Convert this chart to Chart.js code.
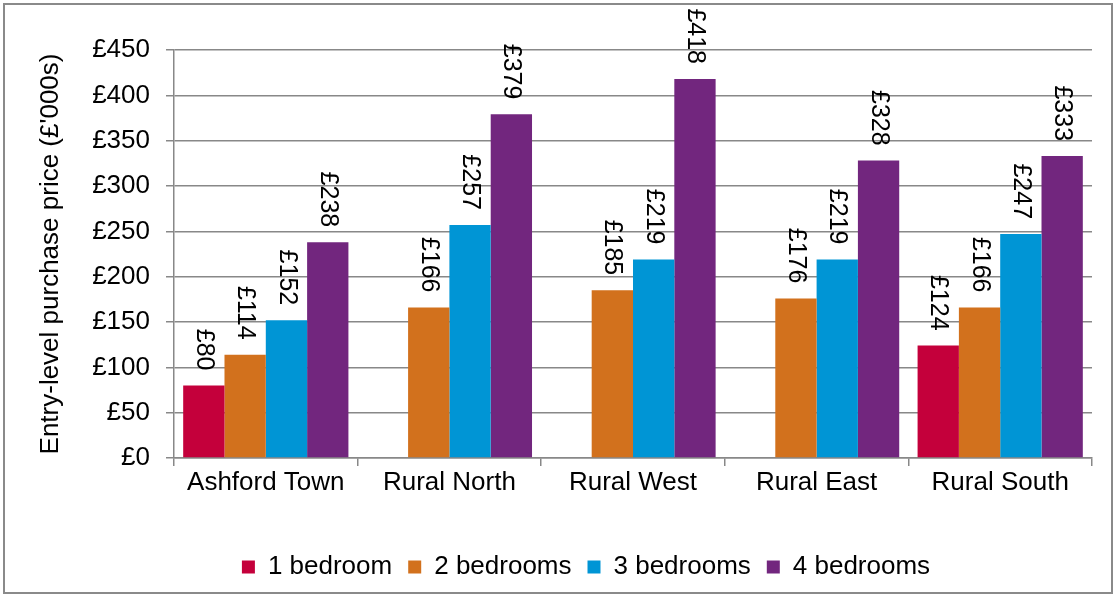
<!DOCTYPE html>
<html>
<head>
<meta charset="utf-8">
<script src="https://cdn.jsdelivr.net/npm/chart.js@4/dist/chart.umd.min.js"></script>
<style>
  html, body { margin: 0; padding: 0; background: #fff; }
  canvas { display: block; }
</style>
</head>
<body>
<canvas id="chart" width="1114" height="595"></canvas>
<script>
// Areas along the x axis
const areas = ['Ashford Town', 'Rural North', 'Rural West', 'Rural East', 'Rural South'];

// Entry-level purchase prices (£'000s) by home size; null = no figure for that area
const oneBedroom   = [80, null, null, null, 124];
const twoBedrooms  = [114, 166, 185, 176, 166];
const threeBedrooms = [152, 257, 219, 219, 247];
const fourBedrooms = [238, 379, 418, 328, 333];

const seriesNames = ['1 bedroom', '2 bedrooms', '3 bedrooms', '4 bedrooms'];
const seriesValues = [oneBedroom, twoBedrooms, threeBedrooms, fourBedrooms];
const seriesColors = ['#C4003B', '#D2711D', '#0095D5', '#72267E'];

const yMin = 0, yMax = 450, yStep = 50;
const yTitle = "Entry-level purchase price (£'000s)";

const FONT = '"Liberation Sans", Arial, Helvetica, sans-serif';
const AXIS_GREY = '#888888';

Chart.defaults.font.family = FONT;
Chart.defaults.font.size = 26;
Chart.defaults.color = '#000';

// White page with a thin grey frame round the whole chart
const frame = {
  id: 'frame',
  beforeDraw(chart) {
    const ctx = chart.ctx;
    ctx.save();
    ctx.fillStyle = '#fff';
    ctx.fillRect(0, 0, chart.width, chart.height);
    ctx.strokeStyle = '#8a8a8a';
    ctx.lineWidth = 2;
    ctx.strokeRect(4, 4, chart.width - 6, chart.height - 6);
    ctx.restore();
  }
};

// Value labels above each bar, turned to read downwards
const barLabels = {
  id: 'barLabels',
  afterDatasetsDraw(chart) {
    const ctx = chart.ctx;
    ctx.save();
    ctx.font = '25px ' + FONT;
    ctx.fillStyle = '#000';
    ctx.textAlign = 'right';
    ctx.textBaseline = 'middle';
    chart.data.datasets.forEach((ds, i) => {
      chart.getDatasetMeta(i).data.forEach((bar, j) => {
        const v = ds.data[j];
        if (v === null || v === undefined) return;
        ctx.save();
        ctx.translate(bar.x, bar.y - 15);
        ctx.rotate(Math.PI / 2);
        ctx.fillText('£' + v, 0, 0);
        ctx.restore();
      });
    });
    ctx.restore();
  }
};

// Nudge the legend row to the right of the canvas centre
const legendOffsetX = 40;
const legendNudge = {
  id: 'legendNudge',
  afterLayout(chart) {
    const lg = chart.legend;
    if (!lg) return;
    lg.left += legendOffsetX;
    lg.right += legendOffsetX;
  }
};

new Chart(document.getElementById('chart'), {
  type: 'bar',
  data: {
    labels: areas,
    datasets: seriesNames.map((name, i) => ({
      label: name,
      data: seriesValues[i],
      backgroundColor: seriesColors[i],
      borderWidth: 0,
      barPercentage: 1.0,
      categoryPercentage: 0.9
    }))
  },
  options: {
    responsive: false,
    animation: false,
    devicePixelRatio: 1,
    layout: { padding: { left: 0, right: 22, top: 50, bottom: 5 } },
    plugins: {
      tooltip: { enabled: false },
      legend: {
        position: 'bottom',
        labels: {
          boxWidth: 13,
          boxHeight: 13,
          padding: 16,
          color: '#000',
          font: { size: 26 }
        }
      }
    },
    scales: {
      x: {
        offset: true,
        grid: {
          display: true,
          offset: true,
          drawOnChartArea: false,
          drawTicks: true,
          tickLength: 8,
          color: AXIS_GREY,
          lineWidth: 1.5
        },
        border: { display: true, color: AXIS_GREY, width: 1.5 },
        ticks: { padding: 1, color: '#000', font: { size: 26 }, maxRotation: 0 },
        afterFit(scale) { scale.height = 80; }
      },
      y: {
        min: yMin,
        max: yMax,
        grid: {
          color: AXIS_GREY,
          lineWidth: 1.5,
          tickLength: 8
        },
        border: { display: true, color: AXIS_GREY, width: 1.5 },
        ticks: {
          stepSize: yStep,
          padding: 16,
          color: '#000',
          font: { size: 26 },
          callback: (v) => '£' + v
        },
        title: {
          display: true,
          text: yTitle,
          color: '#000',
          font: { size: 26 },
          padding: { top: 35, bottom: 0 }
        },
        afterFit(scale) { scale.width = 174; }
      }
    }
  },
  plugins: [frame, barLabels, legendNudge]
});
</script>
</body>
</html>
